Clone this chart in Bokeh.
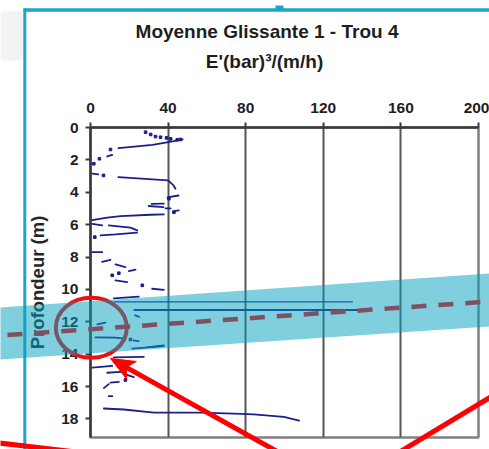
import numpy as np
from bokeh.plotting import figure
from bokeh.layouts import column
from bokeh.models import Label, FixedTicker, Range1d
from bokeh.embed import file_html
from bokeh.resources import INLINE

# ---------------- data ----------------
title_text = "Moyenne Glissante 1 - Trou 4"
subtitle_text = "E'(bar)³/(m/h)"
y_label = "Profondeur (m)"
x_ticks = [0, 40, 80, 120, 160, 200]
y_ticks = [0, 2, 4, 6, 8, 10, 12, 14, 16, 18]

# streaks of the moving average: E' values (x) and depths (y)
streak_values = [
    [14.4, 32.0, 42.3, 47.5],
    [8.6, 11.2],
    [1.0, 4.0],
    [14.4, 40.0, 42.8, 43.8],
    [39.7, 45.4],
    [31.5, 37.8],
    [30.0, 37.6],
    [38.7, 41.3],
    [43.0, 45.5],
    [0.9, 8.6, 15.5, 31.0, 37.8],
    [0.9, 6.0],
    [9.4, 20.6, 24.1],
    [5.2, 13.0, 24.0],
    [0.9, 6.0],
    [6.0, 10.3],
    [12.9, 18.0],
    [19.8, 23.2],
    [12.9, 18.9],
    [31.8, 37.8],
    [12.0, 24.9],
    [23.0, 25.0],
    [3.5, 7.7],
    [2.6, 12.9, 16.3],
    [22.2, 24.8],
    [21.5, 28.0, 37.8],
    [29.5, 37.8],
    [12.0, 27.5],
    [0.9, 11.2],
    [8.6, 15.5],
    [17.2, 22.3],
    [10.3, 14.6],
    [6.9, 9.4],
    [9.4, 11.2],
    [6.9, 17.2, 32.7, 56.7, 73.9, 84.2, 99.7, 107.5],
]
streak_depths = [
    [1.28, 1.07, 0.86, 0.74],
    [1.79, 1.69],
    [2.85, 2.90],
    [3.07, 3.27, 3.58, 3.78],
    [4.32, 4.20],
    [4.72, 4.70],
    [4.85, 4.92],
    [5.00, 5.00],
    [5.17, 5.12],
    [5.72, 5.57, 5.48, 5.39, 5.37],
    [5.95, 6.05],
    [6.05, 6.19, 6.36],
    [6.67, 6.60, 6.50],
    [7.70, 7.70],
    [8.30, 8.17],
    [8.46, 8.62],
    [8.87, 8.78],
    [9.44, 9.55],
    [9.96, 10.03],
    [10.55, 10.45],
    [11.60, 11.70],
    [12.16, 12.06],
    [12.97, 12.98, 13.03],
    [13.15, 13.19],
    [13.66, 13.60, 13.46],
    [13.58, 13.50],
    [14.20, 14.17],
    [14.83, 14.73],
    [15.15, 15.10],
    [15.22, 15.42],
    [15.76, 15.72],
    [16.10, 15.85],
    [16.60, 16.60],
    [17.36, 17.42, 17.61, 17.61, 17.67, 17.72, 17.88, 18.10],
]

# the two long streaks near 11 m
long_upper_values = [12.0, 135.2]
long_upper_depths = [10.77, 10.77]
long_lower_values = [22.2, 142.0]
long_lower_depths = [11.27, 11.27]

# isolated points
dot_values = [28.4, 31.0, 33.5, 36.1, 39.2, 41.3, 44.7, 46.4, 10.3, 4.6, 1.7,
              6.7, 40.4, 43.0, 2.2, 14.6, 11.2, 26.7, 20.6, 18.0]
dot_depths = [0.29, 0.43, 0.56, 0.60, 0.64, 0.70, 0.76, 0.74, 1.36, 1.93, 2.24,
              2.96, 4.40, 5.23, 6.77, 9.00, 9.13, 9.75, 13.10, 15.60]

# ---------------- chart figure ----------------
W, H = 489, 449

p = figure(width=W, height=H, x_range=Range1d(0, 200), y_range=Range1d(19.15, 0),
           x_axis_location="above", output_backend="svg", toolbar_location=None,
           min_border_left=90, min_border_right=11, min_border_top=127,
           min_border_bottom=12, background_fill_color="white",
           border_fill_color="white")
p.frame_align = False

p.outline_line_color = "#808080"
p.outline_line_width = 2.5

xa = p.xaxis[0]
xa.ticker = FixedTicker(ticks=x_ticks)
ya = p.yaxis[0]
ya.ticker = FixedTicker(ticks=y_ticks)
for ax in (xa, ya):
    ax.axis_line_color = "#3a3a3a"
    ax.axis_line_width = 2.5
    ax.major_tick_line_color = "#3a3a3a"
    ax.major_tick_line_width = 2
    ax.major_tick_out = 5
    ax.major_tick_in = 0
    ax.minor_tick_line_color = None
    ax.major_label_text_font = "Liberation Sans"
    ax.major_label_text_font_style = "bold"
    ax.major_label_text_font_size = "15.5px"
    ax.major_label_text_color = "#1e1e1e"
xa.major_label_standoff = 10
ya.major_label_standoff = 7
ya.axis_label = y_label
ya.axis_label_text_font = "Liberation Sans"
ya.axis_label_text_font_style = "bold"
ya.axis_label_text_font_size = "18.5px"
ya.axis_label_text_color = "#262626"
ya.axis_label_standoff = 10

p.xgrid.ticker = FixedTicker(ticks=x_ticks)
p.xgrid.grid_line_color = "#555555"
p.xgrid.grid_line_width = 2
p.ygrid.visible = False

navy = "#1b1f8a"
p.multi_line(xs=streak_values, ys=streak_depths, line_color=navy, line_width=1.8,
             line_cap="round")
p.line(long_upper_values, long_upper_depths, line_color=navy, line_width=1.2)
p.line(long_lower_values, long_lower_depths, line_color=navy, line_width=2.0)
p.scatter(dot_values, dot_depths, marker="square", size=2.6, color=navy)

# ---------------- transparent overlay with the screenshot's markings ----------------
# its data units are simply page pixels (x to the right, y downwards)
o = figure(width=W, height=H, x_range=Range1d(0, W), y_range=Range1d(H, 0),
           x_axis_type=None, y_axis_type=None, output_backend="svg",
           toolbar_location=None, min_border=0, background_fill_color=None,
           border_fill_color=None, outline_line_color=None)
o.frame_align = False
o.grid.visible = False
o.margin = (-H, 0, 0, 0)

# light gray patch at top-left
o.patch([0, 22.5, 22.5, 0], [11, 11, 60, 60], fill_color="#f3f3f3", line_alpha=0)
# cyan frame lines and the small tab on the top line
o.line([24.3, 24.3], [8, 470], line_color="#1aa6c8", line_width=3)
o.line([23, 520], [9.6, 9.6], line_color="#1aa6c8", line_width=3.5)
o.patch([275, 283, 283, 275], [5, 5, 9, 9], fill_color="#1aa6c8", line_alpha=0)
# red ellipse and red dashed trend line (under the band)
o.ellipse(x=[90.8], y=[327.2], width=71, height=60, fill_alpha=0,
          line_color="#ee1111", line_width=4)
o.line([-20, 510], [336.4, 299.5], line_color="#ff0000", line_width=4.5,
       line_dash="15 12")
# translucent cyan band
o.patch([-20, 510, 510, -20], [308.4, 271.6, 324.6, 360.4], fill_color="#00a0bf",
        fill_alpha=0.5, line_alpha=0)
# red arrow and red lines (over the band)
tip = np.array([110.0, 358.0])
tail = np.array([300.0, 464.0])
u = (tail - tip) / np.linalg.norm(tail - tip)
n = np.array([-u[1], u[0]])
start = tip + 14 * u
o.line([start[0], tail[0]], [start[1], tail[1]], line_color="#ff0000", line_width=5)
b = tip + 24 * u
notch = tip + 18 * u
head = [tip, b + 10 * n, notch, b - 10 * n]
o.patch([q[0] for q in head], [q[1] for q in head], fill_color="#ff0000",
        line_color="#ff0000", line_width=1)
o.line([395, 505], [454, 387.5], line_color="#ff0000", line_width=5)
o.line([-10, 80], [441.5, 452], line_color="#ff0000", line_width=5)

# titles
o.add_layout(Label(x=266.5, y=30.5, text=title_text, text_align="center",
                   text_baseline="alphabetic", text_font="Liberation Sans",
                   text_font_style="bold", text_font_size="19px",
                   text_color="#1e1e1e"))
o.add_layout(Label(x=264, y=60.5, text=subtitle_text, text_align="center",
                   text_baseline="alphabetic", text_font="Liberation Sans",
                   text_font_style="bold", text_font_size="19px",
                   text_color="#1e1e1e"))

layout = column(p, o, spacing=0)
open("out.html", "w").write(file_html(layout, INLINE))
